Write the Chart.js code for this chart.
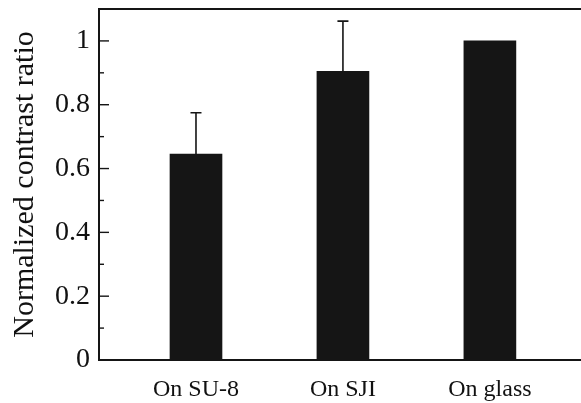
<!DOCTYPE html>
<html lang="en">
<head>
<meta charset="UTF-8">
<title>Normalized contrast ratio</title>
<script src="https://cdn.jsdelivr.net/npm/chart.js"></script>
<style>
  html, body { margin: 0; padding: 0; background: #fff; }
  #wrap { width: 581px; height: 403px; }
</style>
</head>
<body>
<div id="wrap"><canvas id="dataChart"></canvas></div>
<script>
const categories = ['On SU-8', 'On SJI', 'On glass'];
const values = [0.645, 0.905, 1.0];
const errors = [0.13, 0.157, 0];
const yTicks = [0, 0.2, 0.4, 0.6, 0.8, 1];
const yTickLabels = ['0', '0.2', '0.4', '0.6', '0.8', '1'];
const yMinorTicks = [0.1, 0.3, 0.5, 0.7, 0.9];

const ink = '#151515';
const serif = "'Liberation Serif', 'Times New Roman', Times, serif";

// error bars, inward ticks and the top frame line
const extras = {
  id: 'extras',
  afterDatasetsDraw(chart) {
    const ctx = chart.ctx;
    const xs = chart.scales.x, ys = chart.scales.y;
    const area = chart.chartArea;
    ctx.save();
    ctx.strokeStyle = ink;
    ctx.lineWidth = 1.6;
    values.forEach((v, i) => {
      if (!errors[i]) return;
      const x = xs.getPixelForValue(i + 1);
      const y0 = ys.getPixelForValue(v);
      const y1 = ys.getPixelForValue(v + errors[i]);
      ctx.beginPath();
      ctx.moveTo(x, y0);
      ctx.lineTo(x, y1);
      ctx.moveTo(x - 5.5, y1);
      ctx.lineTo(x + 5.5, y1);
      ctx.stroke();
    });
    ctx.lineWidth = 1.4;
    yTicks.forEach(t => {
      const y = ys.getPixelForValue(t);
      ctx.beginPath();
      ctx.moveTo(area.left, y);
      ctx.lineTo(area.left + 10, y);
      ctx.stroke();
    });
    yMinorTicks.forEach(t => {
      const y = ys.getPixelForValue(t);
      ctx.beginPath();
      ctx.moveTo(area.left, y);
      ctx.lineTo(area.left + 5, y);
      ctx.stroke();
    });
    ctx.lineWidth = 2;
    ctx.beginPath();
    ctx.moveTo(area.left - 1, area.top);
    ctx.lineTo(area.right, area.top);
    ctx.stroke();
    ctx.restore();
  }
};

function noPad(axis) {
  axis.paddingTop = 0;
  axis.paddingBottom = 0;
  axis.paddingLeft = 0;
  axis.paddingRight = 0;
}

const ctx = document.getElementById('dataChart').getContext('2d');
new Chart(ctx, {
  type: 'bar',
  data: {
    datasets: [{
      data: values.map((v, i) => ({ x: i + 1, y: v })),
      backgroundColor: ink,
      borderWidth: 0,
      barThickness: 52
    }]
  },
  plugins: [extras],
  options: {
    responsive: true,
    maintainAspectRatio: false,
    animation: false,
    layout: { padding: { top: 9, left: 0, right: 0, bottom: 0 } },
    plugins: {
      legend: { display: false },
      tooltip: { enabled: false }
    },
    scales: {
      x: {
        type: 'linear',
        min: 0.34,
        max: 3.62,
        offset: false,
        afterBuildTicks: axis => { axis.ticks = categories.map((c, i) => ({ value: i + 1 })); },
        afterFit: axis => { axis.height = 43; noPad(axis); },
        grid: { display: false, drawTicks: false },
        border: { display: true, color: ink, width: 2 },
        ticks: {
          autoSkip: false,
          maxRotation: 0,
          padding: 15,
          color: '#111',
          font: { family: serif, size: 24 },
          callback: v => categories[Math.round(v) - 1]
        }
      },
      y: {
        min: 0,
        max: 1.1,
        afterBuildTicks: axis => { axis.ticks = yTicks.map(v => ({ value: v })); },
        afterFit: axis => { axis.width = 99; noPad(axis); },
        grid: { display: false, drawTicks: false },
        border: { display: true, color: ink, width: 2 },
        title: {
          display: true,
          text: 'Normalized contrast ratio',
          color: '#111',
          font: { family: serif, size: 30 },
          padding: { top: 7, bottom: 0 }
        },
        ticks: {
          padding: 9,
          color: '#111',
          font: { family: serif, size: 28 },
          callback: (v, i) => yTickLabels[i]
        }
      }
    }
  }
});
</script>
</body>
</html>
